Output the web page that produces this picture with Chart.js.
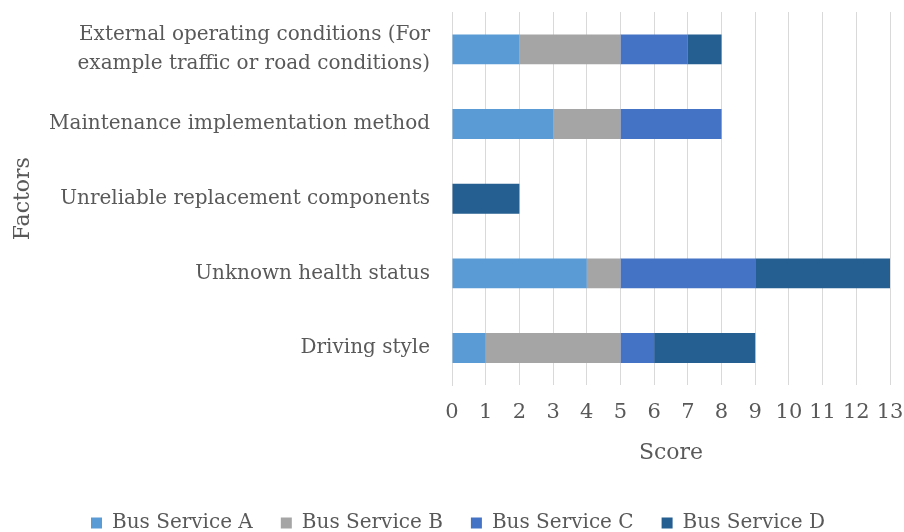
<!DOCTYPE html>
<html>
<head>
<meta charset="utf-8">
<script src="https://cdn.jsdelivr.net/npm/chart.js@4"></script>
<style>
  body { margin: 0; background: #fff; }
  #wrap { width: 904px; height: 532px; }
</style>
</head>
<body>
<div id="wrap"><canvas id="myChart" width="904" height="532"></canvas></div>
<script>
let factors = [
  ["External operating conditions (For", "example traffic or road conditions)"],
  "Maintenance implementation method",
  "Unreliable replacement components",
  "Unknown health status",
  "Driving style"
];
let serviceA = [2, 3, 0, 4, 1];
let serviceB = [3, 2, 0, 1, 4];
let serviceC = [2, 3, 0, 4, 1];
let serviceD = [1, 0, 2, 4, 3];
let seriesNames = ["Bus Service A", "Bus Service B", "Bus Service C", "Bus Service D"];
let seriesColors = ["#5b9bd5", "#a5a5a5", "#4472c4", "#255e91"];

const FONT = "'DejaVu Serif'";
const TEXT = "#595959";

// nudge the legend row a bit to the right, like the original
const legendShift = {
  id: 'legendShift',
  afterLayout(chart) {
    if (chart.legend) {
      chart.legend.left += 13;
      chart.legend.right += 13;
    }
  }
};

function render() {
  var ctx = document.getElementById("myChart").getContext('2d');
  let values = [serviceA, serviceB, serviceC, serviceD];
  let datasets = [];
  for (let i = 0; i < values.length; i++) {
    datasets.push({
      label: seriesNames[i],
      data: values[i],
      backgroundColor: seriesColors[i],
      borderWidth: 0,
      barPercentage: 0.8,
      categoryPercentage: 0.5
    });
  }

  /*global Chart*/
  new Chart(ctx, {
    type: 'bar',
    data: { labels: factors, datasets: datasets },
    plugins: [legendShift],
    options: {
      responsive: false,
      animation: false,
      indexAxis: 'y',
      layout: { padding: { top: 12, right: 14, left: 0, bottom: -11 } },
      plugins: {
        tooltip: { enabled: false },
        legend: {
          position: 'bottom',
          labels: {
            color: TEXT,
            font: { family: FONT, size: 20 },
            boxWidth: 11,
            boxHeight: 11,
            padding: 28
          }
        }
      },
      scales: {
        x: {
          stacked: true,
          min: 0,
          max: 13,
          ticks: { stepSize: 1, color: TEXT, font: { family: FONT, size: 21 }, padding: 15 },
          grid: { color: "#d9d9d9", drawTicks: false },
          border: { display: false },
          title: { display: true, text: "Score", color: TEXT, font: { family: FONT, size: 22 }, padding: { top: -1, bottom: 19 } },
          afterFit: function(scale) {
            scale.paddingLeft = 0;
            scale.paddingRight = 0;
          }
        },
        y: {
          stacked: true,
          ticks: { color: TEXT, font: { family: FONT, size: 20, lineHeight: 1.45 }, padding: 14 },
          grid: { display: false },
          border: { display: true, color: "#d9d9d9" },
          title: { display: true, text: "Factors", color: TEXT, font: { family: FONT, size: 22 }, padding: { top: 10, bottom: 0 } },
          afterFit: function(scale) {
            scale.width = 452;
            scale.paddingTop = 0;
            scale.paddingBottom = 0;
          }
        }
      }
    }
  });
}

render();
</script>
</body>
</html>
